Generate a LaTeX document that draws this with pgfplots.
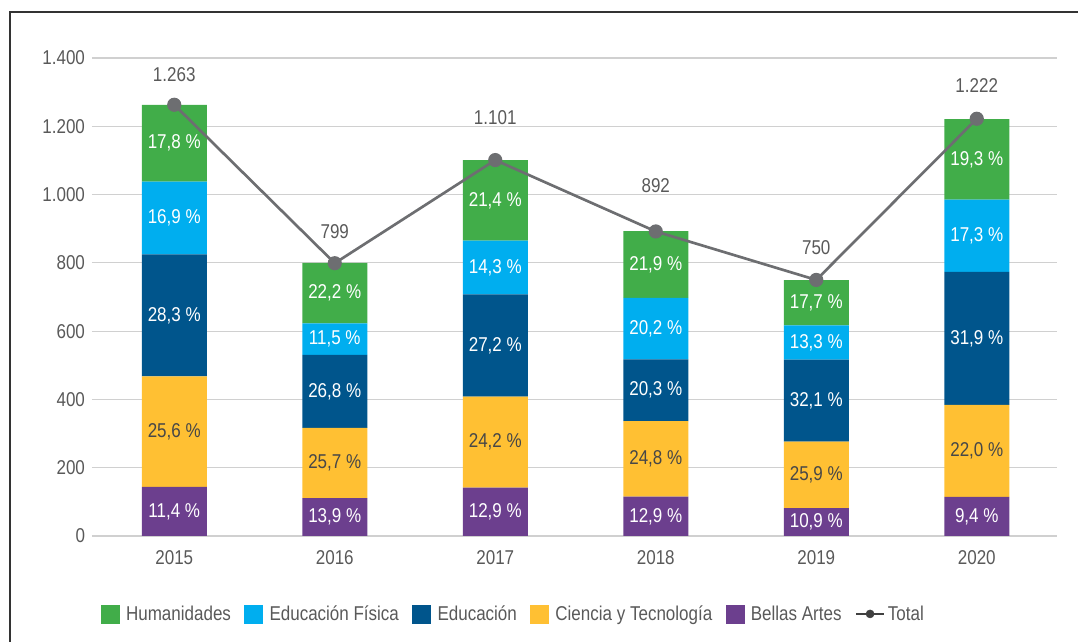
\documentclass[border=0pt]{standalone}
\usepackage{pgfplots}
\usepackage{pgfplotstable}
\pgfplotsset{compat=1.18}
\usepackage{fontspec}
\setmainfont{Liberation Sans}[FakeStretch=0.85]
\newcommand\f{\fontsize{15pt}{18pt}\selectfont}
\definecolor{cHum}{HTML}{41AD49}
\definecolor{cEF}{HTML}{00AEEF}
\definecolor{cEdu}{HTML}{00558C}
\definecolor{cCyT}{HTML}{FFC033}
\definecolor{cBA}{HTML}{6C3F8E}
\definecolor{cTot}{HTML}{6D6E71}
\definecolor{txt}{HTML}{595959}
\definecolor{grid}{HTML}{D0D0D0}

\pgfplotstableread{
x ba cyt edu ef hum pba pcyt pedu pef phum total off
0 144.0 323.3 357.4 213.4 224.8 11.4 25.6 28.3 16.9 17.8 1263 22.5
1 111.1 205.3 214.1 91.9 177.4 13.9 25.7 26.8 11.5 22.2 799 24
2 142.0 266.4 299.5 157.4 235.6 12.9 24.2 27.2 14.3 21.4 1101 31.5
3 115.1 221.2 181.1 180.2 195.3 12.9 24.8 20.3 20.2 21.9 892 34.5
4 81.8 194.3 240.8 99.8 132.8 10.9 25.9 32.1 13.3 17.7 750 24.4
5 114.9 268.8 389.8 211.4 235.8 9.4 22.0 31.9 17.3 19.3 1222 24.75
}\data

\pgfplotsset{
  common/.style={
    at={(0,0)}, anchor=south west,
    width=723.75pt, height=358.5pt, scale only axis,
    xmin=-0.5125, xmax=5.5, ymin=0, ymax=1400,
    clip=false,
    /pgf/number format/assume math mode=true,
  },
  pct/.style={draw=none, mark=none, forget plot, point meta=explicit,
    nodes near coords={\pgfmathprintnumber[fixed,fixed zerofill,precision=1,use comma]{\pgfplotspointmeta}~\%},
    every node near coord/.append style={anchor=center, font=\f, text=#1}},
  sq/.style={legend image code/.code={\fill[#1] (0pt,-6.75pt) rectangle (13.5pt,6.75pt); \path (16.5pt,0pt);}},
}

\begin{document}
\begin{tikzpicture}
\useasboundingbox (-69pt,-79.5pt) rectangle (739.5pt,402pt);
\draw[color=black!80, line width=1pt] (-61.5pt,-90pt) -- (-61.5pt,393pt) -- (760pt,393pt);

\begin{axis}[common,
  ybar stacked, bar width=48.75pt,
  axis line style={draw=none},
  ymajorgrids, grid style={color=grid, line width=0.9pt},
  ytick={0,200,...,1400},
  xtick={0,1,2,3,4,5},
  xticklabels={2015,2016,2017,2018,2019,2020},
  major tick length=0pt,
  tick label style={font=\f, text=txt},
  yticklabel style={xshift=-1.75pt},
  xticklabel style={yshift=-7.5pt},
  /pgf/number format/1000 sep={.},
]
\addplot[fill=cBA, draw=none] table[x=x, y=ba] \data;
\addplot[fill=cCyT, draw=none] table[x=x, y=cyt] \data;
\addplot[fill=cEdu, draw=none] table[x=x, y=edu] \data;
\addplot[fill=cEF, draw=none] table[x=x, y=ef] \data;
\addplot[fill=cHum, draw=none] table[x=x, y=hum] \data;
\end{axis}

\begin{axis}[common, hide axis,
  legend columns=-1,
  legend style={at={(0.437,-0.163)}, anchor=center, draw=none, fill=none,
    font=\f, text=txt,
    /tikz/every even column/.append style={column sep=8pt}},
]
\addlegendimage{sq=cHum}
\addlegendentry{Humanidades}
\addlegendimage{sq=cEF}
\addlegendentry{Educación Física}
\addlegendimage{sq=cEdu}
\addlegendentry{Educación}
\addlegendimage{sq=cCyT}
\addlegendentry{Ciencia y Tecnología}
\addlegendimage{sq=cBA}
\addlegendentry{Bellas Artes}
\addlegendimage{legend image code/.code={\draw[black!75, line width=1.8pt] (0pt,0pt) -- (21pt,0pt); \fill[black!75] (10.5pt,0pt) circle (3pt); \path (20pt,0pt);}}
\addlegendentry{Total}
% percentage labels, centred in each stacked segment
\addplot[pct=white] table[x=x, y expr={\thisrow{ba}/2}, meta=pba] \data;
\addplot[pct=black!72] table[x=x, y expr={\thisrow{ba}+\thisrow{cyt}/2}, meta=pcyt] \data;
\addplot[pct=white] table[x=x, y expr={\thisrow{ba}+\thisrow{cyt}+\thisrow{edu}/2}, meta=pedu] \data;
\addplot[pct=white] table[x=x, y expr={\thisrow{ba}+\thisrow{cyt}+\thisrow{edu}+\thisrow{ef}/2}, meta=pef] \data;
\addplot[pct=white] table[x=x, y expr={\thisrow{ba}+\thisrow{cyt}+\thisrow{edu}+\thisrow{ef}+\thisrow{hum}/2}, meta=phum] \data;
% total line
\addplot[forget plot, color=cTot, line width=2pt, mark=*, mark size=4.3pt,
  point meta=y,
  visualization depends on={\thisrow{off} \as \off},
  nodes near coords={\pgfmathprintnumber[fixed,precision=0,1000 sep={.}]{\pgfplotspointmeta}},
  every node near coord/.append style={anchor=center, yshift=\off pt, font=\f, text=txt},
] table[x=x, y=total] \data;
\end{axis}
\end{tikzpicture}
\end{document}
